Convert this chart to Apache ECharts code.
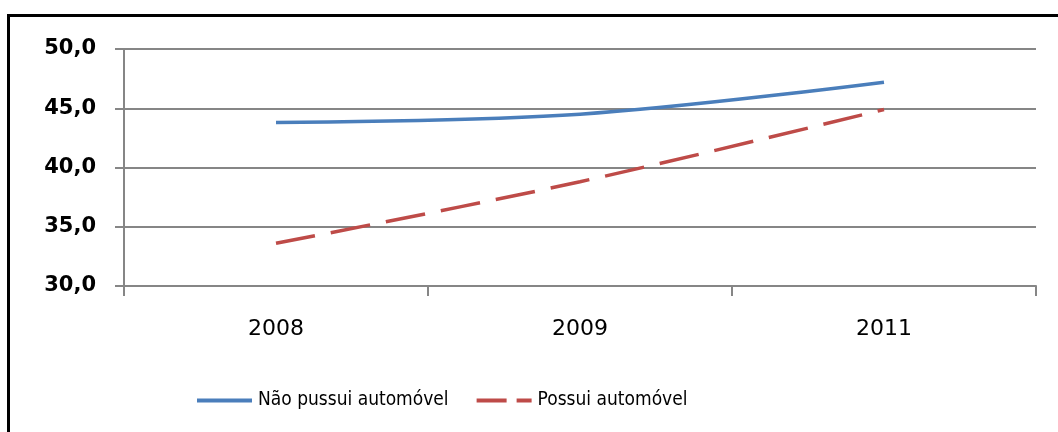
<!DOCTYPE html>
<html><head><meta charset="utf-8">
<script src="https://cdn.jsdelivr.net/npm/echarts@6/dist/echarts.min.js"></script>
<style>html,body{margin:0;padding:0;background:#fff}#c{width:1058px;height:432px}</style>
</head><body><div id="c"></div>
<script>
const categories = ['2008', '2009', '2011'];
const semAuto = [43.8, 44.5, 47.2];
const comAuto = [33.6, 38.8, 44.9];
const seriesNames = ['Não pussui automóvel', 'Possui automóvel'];

const chart = echarts.init(document.getElementById('c'));
chart.setOption({
  animation: false,
  backgroundColor: '#fff',
  graphic: [{
    type: 'rect', silent: true,
    shape: { x: 8.5, y: 15.5, width: 1200, height: 600 },
    style: { fill: 'none', stroke: '#000', lineWidth: 3 }
  }],
  grid: { left: 124, right: 22, top: 49, bottom: 146 },
  legend: {
    left: 190, top: 386,
    itemWidth: 55, itemHeight: 14, itemGap: 26,
    itemStyle: { opacity: 0 },
    lineStyle: { width: 4 },
    textStyle: { fontFamily: 'DejaVu Sans Condensed', fontSize: 19, color: '#000', padding: [0, 0, 0, 1] },
    data: [
      { name: seriesNames[0] },
      { name: seriesNames[1], lineStyle: { type: [30, 10], width: 4 } }
    ]
  },
  xAxis: {
    type: 'category', data: categories, boundaryGap: true,
    axisLine: { lineStyle: { color: '#868686', width: 2 } },
    axisTick: { show: true, length: 10, lineStyle: { color: '#868686', width: 2 } },
    axisLabel: { margin: 32, color: '#000', fontFamily: 'DejaVu Sans', fontSize: 22 }
  },
  yAxis: {
    type: 'value', min: 30, max: 50, interval: 5,
    axisLine: { show: true, lineStyle: { color: '#868686', width: 2 } },
    axisTick: { show: true, length: 9, lineStyle: { color: '#868686', width: 2 } },
    splitLine: { lineStyle: { color: '#868686', width: 2 } },
    axisLabel: { margin: 28, color: '#000', fontFamily: 'DejaVu Sans', fontSize: 21, fontWeight: 'bold',
      formatter: v => v.toFixed(1).replace('.', ',') }
  },
  series: [
    { name: seriesNames[0], type: 'line', data: semAuto, smooth: 0.35, symbol: 'none',
      itemStyle: { color: '#4a7ebb' }, lineStyle: { color: '#4a7ebb', width: 3.5 } },
    { name: seriesNames[1], type: 'line', data: comAuto, smooth: 0.35, symbol: 'none',
      itemStyle: { color: '#be4b48' }, lineStyle: { color: '#be4b48', width: 3.5, type: [40, 16] } }
  ]
});
</script></body></html>
